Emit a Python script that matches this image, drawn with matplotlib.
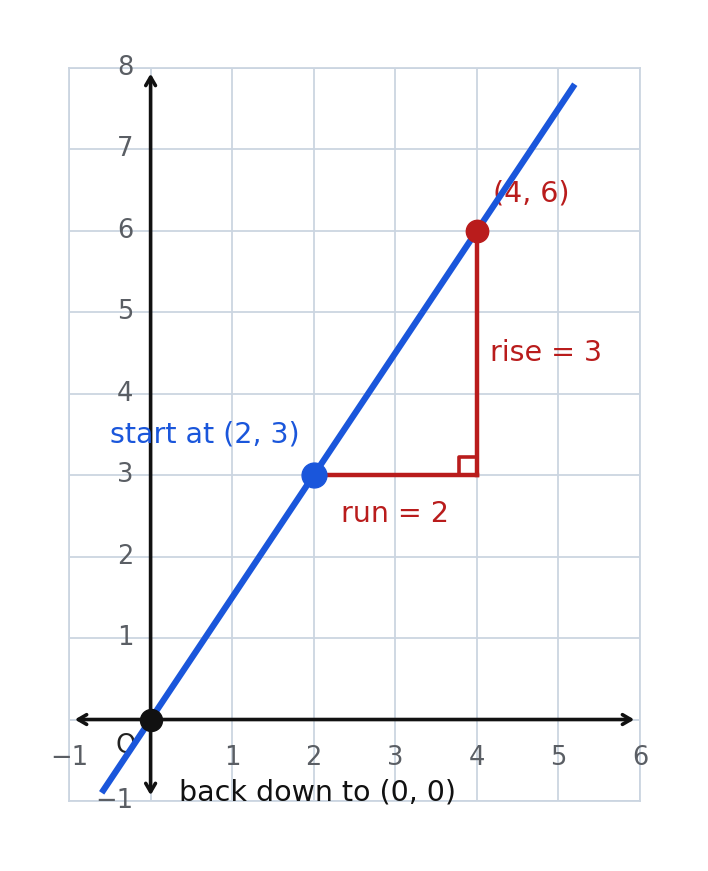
import matplotlib.pyplot as plt
import numpy as np

# data
x_ticks = [-1, 1, 2, 3, 4, 5, 6]
y_ticks = [-1, 1, 2, 3, 4, 5, 6, 7, 8]
line_x = [-0.6, 5.2]
slope = 1.5
start_pt = (2, 3)
end_pt = (4, 6)
origin = (0, 0)

blue = '#1a56db'
red = '#b91c1c'
grid_c = '#cbd5e1'

fig = plt.figure(figsize=(7.08, 8.71), dpi=100)
ax = fig.add_axes([0.0975, 0.0804, 0.8065, 0.8416])
ax.set_xlim(-1, 6)
ax.set_ylim(-1, 8)

ax.set_xticks(range(-1, 7))
ax.set_yticks(range(-1, 9))
ax.grid(True, color=grid_c, lw=1.3)
ax.set_axisbelow(True)
for s in ax.spines.values():
    s.set_color(grid_c)
    s.set_linewidth(1.3)
ax.tick_params(length=0, labelbottom=False, labelleft=False)

# tick labels next to the axes
for t in x_ticks:
    ax.text(t, -0.47, '\u2212%d' % -t if t < 0 else str(t), ha='center', va='center',
            fontsize=18.5, color='#5a5e64', clip_on=False)
for t in y_ticks:
    ax.text(-0.21, t, '\u2212%d' % -t if t < 0 else str(t), ha='right', va='center',
            fontsize=18.5, color='#5a5e64', clip_on=False)
ax.text(-0.3, -0.32, 'O', ha='center', va='center', fontsize=18.5, color='#222222')

# axes arrows
akw = dict(arrowstyle='<->,head_length=0.6,head_width=0.35', color='#111111', lw=2.6,
           shrinkA=0, shrinkB=0)
ax.annotate('', xy=(5.93, 0), xytext=(-0.93, 0), arrowprops=akw, zorder=3)
ax.annotate('', xy=(0, 7.93), xytext=(0, -0.93), arrowprops=akw, zorder=3)

# the line
lx = np.array(line_x)
ax.plot(lx, slope * lx, color=blue, lw=4.5, solid_capstyle='butt', zorder=4)

# rise / run
ax.plot([start_pt[0], end_pt[0]], [start_pt[1], start_pt[1]], color=red, lw=3.2, zorder=5)
ax.plot([end_pt[0], end_pt[0]], [start_pt[1], end_pt[1]], color=red, lw=3.2, zorder=5)
sq = 0.22
ax.plot([end_pt[0] - sq, end_pt[0] - sq, end_pt[0]], [start_pt[1], start_pt[1] + sq, start_pt[1] + sq],
        color=red, lw=2.6, zorder=5)

ax.scatter(*origin, s=250, color='#111111', zorder=6)
ax.scatter(*start_pt, s=320, color=blue, zorder=6)
ax.scatter(*end_pt, s=260, color=red, zorder=7)

ax.text(0.66, 3.5, 'start at (2, 3)', color=blue, fontsize=20.5, ha='center', va='center')
ax.text(4.2, 6.46, '(4, 6)', color=red, fontsize=20.5, ha='left', va='center')
ax.text(4.16, 4.5, 'rise = 3', color=red, fontsize=20.5, ha='left', va='center')
ax.text(3.0, 2.52, 'run = 2', color=red, fontsize=20.5, ha='center', va='center')
ax.text(0.35, -0.9, 'back down to (0, 0)', color='#111111', fontsize=20.5, ha='left', va='center')

fig.savefig('out.png', dpi=100)
